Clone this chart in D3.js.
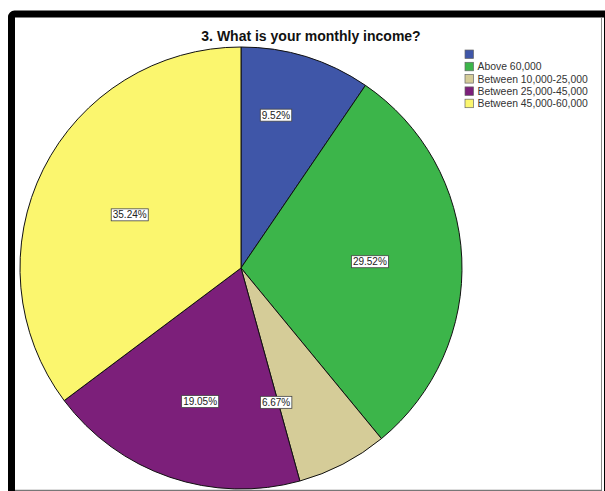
<!DOCTYPE html>
<html>
<head>
<meta charset="utf-8">
<script src="https://cdn.jsdelivr.net/npm/d3@7"></script>
<style>
  body { margin: 0; background: #fff; }
  svg { display: block; font-family: "Liberation Sans", Arial, sans-serif; }
</style>
</head>
<body>
<svg id="piechart" width="605" height="491"></svg>
<script>
// income categories, in the order spss draws them (clockwise from 12 o'clock)
const categories = ["", "Above 60,000", "Between 10,000-25,000", "Between 25,000-45,000", "Between 45,000-60,000"];
const percents = [9.52, 29.52, 6.67, 19.05, 35.24];
const colors = ["#3f56a8", "#3cb54a", "#d5cc98", "#7c1f7a", "#fbf66e"];

const title = "3. What is your monthly income?";

// spss puts its labels a bit off the centroid, nudge them to match
const labelNudge = [[-6, -20], [-10, 0], [-29, 11], [4, 2], [13, 9]];

const svg = d3.select("#piechart");

// frame
svg.append("rect")
  .attr("x", 11.5).attr("y", 14)
  .attr("width", 596).attr("height", 490)
  .attr("rx", 3)
  .attr("fill", "#fff")
  .attr("stroke", "#000")
  .attr("stroke-width", 7);
svg.append("line")
  .attr("x1", 601.5).attr("x2", 601.5).attr("y1", 18).attr("y2", 491)
  .attr("stroke", "#888").attr("stroke-width", 1);
svg.append("line")
  .attr("x1", 15).attr("x2", 602).attr("y1", 490.5).attr("y2", 490.5)
  .attr("stroke", "#777").attr("stroke-width", 1.5);

svg.append("text")
  .attr("x", 311)
  .attr("y", 41)
  .attr("text-anchor", "middle")
  .attr("font-size", "14px")
  .attr("font-weight", "bold")
  .attr("fill", "#111")
  .text(title);

const cx = 241, cy = 268, radius = 221;

const pieData = d3.pie().sort(null).value((d) => d.value)(
  percents.map((p, i) => ({ name: categories[i], value: p, i: i }))
);

const arc = d3.arc().innerRadius(0).outerRadius(radius);
const labelArc = d3.arc().innerRadius(139).outerRadius(139);

const g = svg.append("g").attr("transform", `translate(${cx}, ${cy})`);

g.selectAll("path")
  .data(pieData)
  .join("path")
  .attr("d", arc)
  .attr("fill", (d) => colors[d.data.i])
  .attr("stroke", "#111")
  .attr("stroke-width", 1);

const labels = g.selectAll("g.lbl")
  .data(pieData)
  .join("g")
  .attr("class", "lbl")
  .attr("transform", (d) => {
    const c = labelArc.centroid(d);
    const n = labelNudge[d.data.i];
    return `translate(${c[0] + n[0]}, ${c[1] + n[1]})`;
  });

labels.append("text")
  .attr("text-anchor", "middle")
  .attr("dy", "0.35em")
  .attr("font-size", "10px")
  .attr("fill", "#222")
  .text((d) => d.data.value.toFixed(2) + "%");

labels.each(function () {
  const sel = d3.select(this);
  const bb = sel.select("text").node().getBBox();
  sel.insert("rect", "text")
    .attr("x", bb.x - 1.5)
    .attr("y", bb.y - 0.5)
    .attr("width", bb.width + 3)
    .attr("height", bb.height + 1)
    .attr("fill", "#fff")
    .attr("stroke", "#444")
    .attr("stroke-width", 0.8);
});

// legend
const legend = svg.append("g").attr("transform", "translate(465, 50)");
const rows = legend.selectAll("g")
  .data(categories)
  .join("g")
  .attr("transform", (d, i) => `translate(0, ${i * 12.3})`);

rows.append("rect")
  .attr("width", 8.5)
  .attr("height", 8.5)
  .attr("fill", (d, i) => colors[i])
  .attr("stroke", "#666")
  .attr("stroke-width", 0.7);

rows.append("text")
  .attr("x", 12.5)
  .attr("y", 8)
  .attr("font-size", "10.4px")
  .attr("fill", "#333")
  .text((d) => d);
</script>
</body>
</html>
